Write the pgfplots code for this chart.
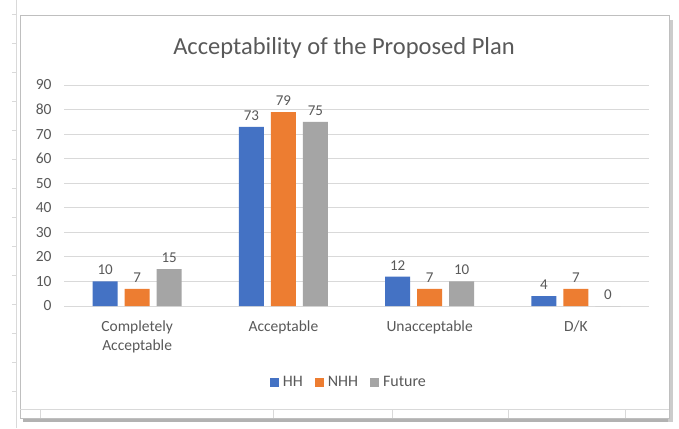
\documentclass[border=0pt]{standalone}
\usepackage{pgfplots}
\pgfplotsset{compat=1.18}
\usepackage{fontspec}
\setmainfont{Carlito}
\definecolor{hh}{HTML}{4472C4}
\definecolor{nhh}{HTML}{ED7D31}
\definecolor{fut}{HTML}{A5A5A5}
\definecolor{txt}{HTML}{595959}
\definecolor{grd}{HTML}{D9D9D9}
\pgfplotsset{sq/.style={legend image code/.code={\fill[##1] (0pt,-4.5pt) rectangle (9pt,4.5pt);}}}
\begin{document}
\begin{tikzpicture}[x=1pt,y=1pt]
\useasboundingbox (0,0) rectangle (679,-428);
% spreadsheet background
\draw[black!15] (16,0) -- (16,-428);
\foreach \y in {-14,-43,-72,-101,-130,-159,-188,-217,-246,-275,-304,-333,-362,-391} \draw[black!15] (12,\y) -- (16,\y);
\fill[black!30] (23,-417) rectangle (673,-422);
\fill[black!20] (668,-20) rectangle (673,-422);
\draw[black!25,fill=white] (20,-15) rectangle (669,-418);
\draw[black!15] (20,-409) -- (669,-409);
\foreach \x in {40,273,392,508,625} \draw[black!15] (\x,-409) -- (\x,-418);
\node[font=\fontsize{24.5}{28}\selectfont, text=txt] at (344,-48) {Acceptability of the Proposed Plan};
\begin{axis}[
  at={(64pt,-306pt)}, anchor=south west,
  scale only axis, width=585pt, height=221pt,
  ybar=7pt, bar width=25pt,
  xmin=-0.5, xmax=3.5, ymin=0, ymax=90,
  ytick={0,10,...,90},
  xtick={0,1,2,3},
  xticklabels={{Completely\\Acceptable},Acceptable,Unacceptable,D/K},
  xticklabel style={align=center, font=\fontsize{15.5}{19}\selectfont, text=txt, yshift=-11pt},
  yticklabel style={font=\fontsize{15.5}{19}\selectfont, text=txt, xshift=-9pt},
  /pgf/number format/assume math mode=true,
  major tick length=0pt,
  axis line style={draw=none},
  ymajorgrids, major grid style={grd, line width=0.9pt},
  nodes near coords,
  nodes near coords style={font=\fontsize{15}{18}\selectfont, text=txt, yshift=3pt},
  legend columns=3,
  legend style={draw=none, fill=none, at={(axis description cs:0.487,-0.344)}, anchor=center,
    font=\fontsize{16}{19}\selectfont, text=txt,
    /tikz/every odd column/.append style={column sep=2pt},
    /tikz/every even column/.append style={column sep=10pt}},
]
\addplot[fill=hh, draw=none, sq] coordinates {(0,10) (1,73) (2,12) (3,4)};
\addplot[fill=nhh, draw=none, sq] coordinates {(0,7) (1,79) (2,7) (3,7)};
\addplot[fill=fut, draw=none, sq] coordinates {(0,15) (1,75) (2,10) (3,0)};
\legend{HH,NHH,Future}
\end{axis}
\end{tikzpicture}
\end{document}
